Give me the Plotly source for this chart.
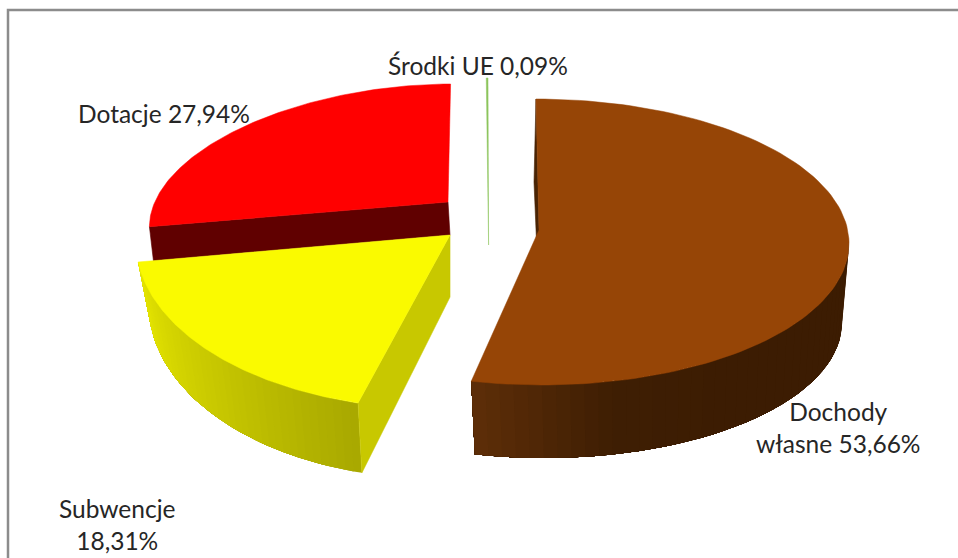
import math
import plotly.graph_objects as go

# --- data ---
categories = ["Dochody własne", "Subwencje", "Dotacje", "Środki UE"]
shares = [53.66, 18.31, 27.94, 0.09]
labels = ["Dochody<br>własne 53,66%", "Subwencje<br>18,31%", "Dotacje 27,94%", "Środki UE 0,09%"]
top_colors = ["#964506", "#FAFA00", "#FF0000", "#8CC45C"]
side_colors = ["#4A2404", "#C8C800", "#600000", "#8CC45C"]
wall_stops = [["#5E2E08", "#3E1E03", "#3C1C02", "#3C1C02", "#3C1C02"], ["#E6E600", "#C8C800", "#A8A800"], None, None]

# geometry of each exploded slice in the perspective view (pixels)
# (apex x, apex y, centre x, centre y, A, B, C, D)
top_geom = [
    (539, 230, 539, 242, 310, -3, 0, -143),
    (450, 235, 450, 235, 313.6, 21, 6, -174),
    (448, 202, 404, 204, 250, 48, 0, -120),
    (488.6, 245, 488, 163, 310, 0, 0, -85),
]
bottom_geom = [
    (539, 300, 539, 320, 303, -5, 0, -138),
    (450, 297, 450, 297, 301, 20, 6, -182),
    (450, 235, 408, 238, 250, 48, 0, -120),
    None,
]
label_pos = [(838.5, 427), (116.5, 524), (163.5, 113), (478, 65)]
label_size = 24.5
text_color = "#262626"


def rim(g, t):
    _, _, cx, cy, a, b, c, d = g
    return cx + a * math.sin(t) + b * math.cos(t), cy + c * math.sin(t) + d * math.cos(t)


def arc(g, t0, t1, n):
    pts = [rim(g, t0 + (t1 - t0) * i / n) for i in range(n + 1)]
    return [p[0] for p in pts], [p[1] for p in pts]


def hexmix(stops, f):
    f = max(0, min(1, f)) * (len(stops) - 1)
    i = min(int(f), len(stops) - 2)
    u = f - i
    a = [int(stops[i][k:k + 2], 16) for k in (1, 3, 5)]
    b = [int(stops[i + 1][k:k + 2], 16) for k in (1, 3, 5)]
    return "rgb(%d,%d,%d)" % tuple(round(p + (q - p) * u) for p, q in zip(a, b))


fig = go.Figure()


def poly(xs, ys, color, lw=0.6):
    fig.add_trace(go.Scatter(x=xs + xs[:1], y=ys + ys[:1], mode="lines", fill="toself",
                             fillcolor=color, line=dict(color=color, width=lw),
                             hoverinfo="skip", showlegend=False))


bounds = []
acc = 0
for v in shares:
    bounds.append((acc / 100 * 2 * math.pi, (acc + v) / 100 * 2 * math.pi))
    acc += v


def draw_slice(i):
    t0, t1 = bounds[i]
    g, b = top_geom[i], bottom_geom[i]
    if b is not None:
        # outer wall: painted from the far end so neighbouring bands leave no seams
        if wall_stops[i] is not None:
            a0 = math.radians(88) if i == 0 else t0
            a1 = t1
            n = 40
            for k in range(n):
                u0 = a0 + (a1 - a0) * k / n
                steps = max(2, (n - k))
                xa, ya = arc(g, u0, a1, steps)
                xb, yb = arc(b, a1, u0, steps)
                f = 1 - (k + .5) / n
                poly(xa + xb, ya + yb, hexmix(wall_stops[i], f), 0)
        # flat cut wall
        p0, q0 = rim(g, t0), rim(b, t0)
        poly([p0[0], q0[0], b[0], g[0]], [p0[1], q0[1], b[1], g[1]], side_colors[i])
    xs, ys = arc(g, t0, t1, 120 if i != 3 else 1)
    poly([g[0]] + xs, [g[1]] + ys, top_colors[i], 0.5)


# the red slice's cut wall faces the viewer on its first edge
def draw_red():
    t0, t1 = bounds[2]
    g, b = top_geom[2], bottom_geom[2]
    p0, q0 = rim(g, t0), rim(b, t0)
    poly([p0[0], q0[0], b[0], g[0]], [p0[1], q0[1], b[1], g[1]], side_colors[2])
    xs, ys = arc(g, t0, t1, 120)
    poly([g[0]] + xs, [g[1]] + ys, top_colors[2], 0.5)


draw_red()
draw_slice(1)
draw_slice(0)
draw_slice(3)

for lab, (x, y) in zip(labels, label_pos):
    fig.add_annotation(x=x, y=y, text=lab, showarrow=False, align="center",
                       font=dict(family="Lato", size=label_size, color=text_color))

fig.add_shape(type="rect", x0=8, y0=10, x1=980, y1=580, line=dict(color="#8C8C8C", width=2.5),
              fillcolor="rgba(0,0,0,0)", layer="below")

fig.update_layout(width=958, height=558, margin=dict(l=0, r=0, t=0, b=0),
                  paper_bgcolor="white", plot_bgcolor="white",
                  xaxis=dict(range=[0, 958], visible=False),
                  yaxis=dict(range=[558, 0], visible=False))
fig.write_html("out.html", config={"displayModeBar": False},
               post_script="document.body.style.margin='0';")
